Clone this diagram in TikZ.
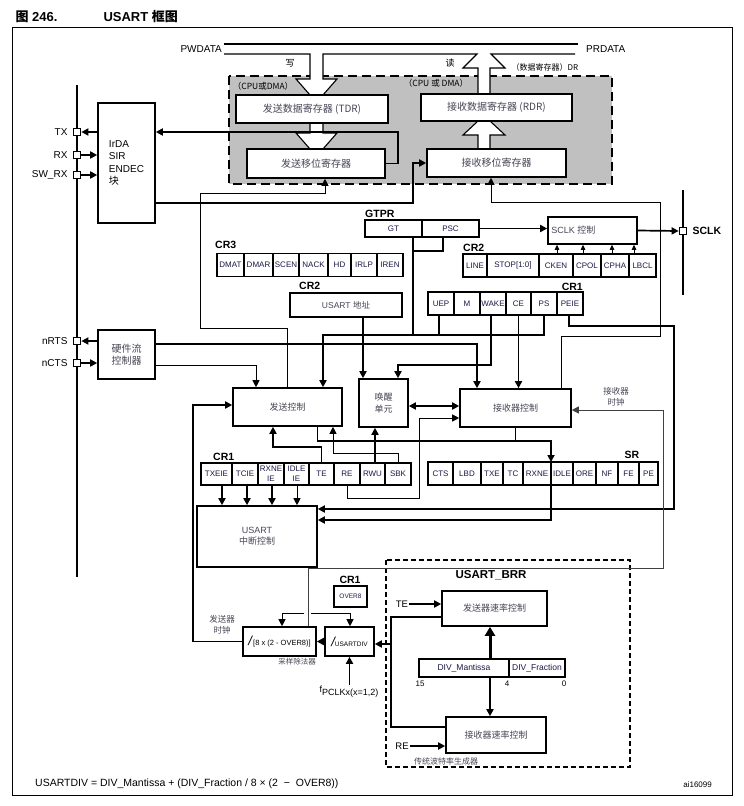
\documentclass[tikz,border=0pt]{standalone}
\usepackage{fontspec}
\setmainfont{Liberation Sans}
\newfontfamily\cjk{Noto Sans CJK SC}
\newfontfamily\latn{Liberation Sans}
\usepackage{tikz}
\usetikzlibrary{arrows.meta, positioning}
\definecolor{regfill}{RGB}{192,192,192}
\definecolor{txtgray}{RGB}{70,70,85}
\definecolor{celltxt}{RGB}{25,25,70}
\newcommand{\fsz}[1]{\fontsize{#1}{\fpeval{1.25*#1}}\selectfont}

\begin{document}
\begin{tikzpicture}[x=1pt, y=-1pt,
  box/.style={draw, line width=1.6pt, fill=white, inner sep=1pt, align=center,
              font=\cjk\fsz{9}, text=txtgray},
  cell/.style={draw, line width=1.2pt, fill=white, inner sep=0pt, outer sep=0pt,
               minimum height=23pt, align=center, font=\fsz{8}, text=celltxt},
  lab/.style={inner sep=1pt, font=\fsz{10}},
  reg/.style={inner sep=1pt, font=\bfseries\fsz{10.5}},
  pin/.style={draw, fill=white, line width=1.2pt, minimum size=7.5pt, inner sep=0pt},
  bus/.style={line width=1.1pt},
  thk/.style={line width=1.7pt},
  thn/.style={line width=0.9pt},
  arr/.style={-{Triangle[length=7pt, width=7pt]}},
  sarr/.style={-{Triangle[length=5pt, width=4.5pt]}},
  darr/.style={{Triangle[length=7pt, width=7pt]}-{Triangle[length=7pt, width=7pt]}}
]
\useasboundingbox (0,0) rectangle (744,806);

\node[anchor=west, font=\bfseries\fsz{13}] (fignum) at (12,17) {{\cjk 图} 246.};
\node[anchor=west, font=\bfseries\fsz{13}] (figtitle) at (100,17) {USART {\cjk 框图}};
\draw[line width=1pt] (12,27) rectangle (732,795);
\draw[line width=2.6pt] (77,85) -- (77,577);
\draw[line width=2.6pt] (683,190) -- (683,295);

% data registers and APB bus
\draw[fill=regfill, line width=2.2pt, dash pattern=on 9pt off 5pt] (229,76) rectangle (612,184);
\fill[white] (310,54) -- (310,79) -- (296,79) -- (310,95) -- (323,95) -- (337,79) -- (323,79) -- (323,54) -- cycle;
\fill[white] (478,94) -- (478,68) -- (463,68) -- (477,54) -- (491,54) -- (505,68) -- (490,68) -- (490,94) -- cycle;
\draw[bus] (224,44) -- (578,44);
\draw[bus] (224,54) -- (310,54) -- (310,79) -- (296,79) -- (310,95);
\draw[bus] (323,95) -- (337,79) -- (323,79) -- (323,54) -- (477,54) -- (463,68) -- (478,68) -- (478,94);
\draw[bus] (490,94) -- (490,68) -- (505,68) -- (491,54) -- (575,54);
\filldraw[bus, fill=white] (310,123) -- (310,133) -- (296,133) -- (310,149) -- (323,149) -- (337,133) -- (323,133) -- (323,123);
\filldraw[bus, fill=white] (478,149) -- (478,135) -- (463,135) -- (478,121) -- (490,121) -- (505,135) -- (490,135) -- (490,149);

\node[lab, anchor=east] (pwdata) at (223,49) {PWDATA};
\node[lab, anchor=west] (prdata) at (585,49) {PRDATA};
\node[lab, font=\cjk\fsz{9}] (wrl) at (290,63) {写};
\node[lab, font=\cjk\fsz{9}] (rdl) at (450,63) {读};
\node[lab, font=\cjk\fsz{8}] (drl) at (545,67) {（数据寄存器）DR};
\node[lab, font=\cjk\fsz{8.5}] (cpul) at (263,86) {（CPU或DMA）};
\node[lab, font=\cjk\fsz{8.5}] (cpur) at (436,83) {（CPU 或 DMA）};

\node[box, minimum width=152pt, minimum height=28pt, font=\cjk\fsz{10}] (tdr) at (312,109) {发送数据寄存器 (TDR)};
\node[box, minimum width=138pt, minimum height=29pt, font=\cjk\fsz{10}] (tsr) at (316,163.5) {发送移位寄存器};
\node[box, minimum width=151pt, minimum height=27pt, font=\cjk\fsz{10}] (rdr) at (496.5,107.5) {接收数据寄存器 (RDR)};
\node[box, minimum width=139pt, minimum height=28pt, font=\cjk\fsz{10}] (rsr) at (496.5,163) {接收移位寄存器};

% pins
\node[pin] (tx) at (77,132) {};
\node[pin] (rx) at (77,155) {};
\node[pin] (swrx) at (77,175) {};
\node[pin] (nrts) at (77,341) {};
\node[pin] (ncts) at (77,363) {};
\node[pin] (sclk) at (683,231) {};
\node[lab, left=4pt of tx] (txl) {TX};
\node[lab, left=4pt of rx] (rxl) {RX};
\node[lab, left=4pt of swrx] (swrxl) {SW\_RX};
\node[lab, left=4pt of nrts] (nrtsl) {nRTS};
\node[lab, left=4pt of ncts] (nctsl) {nCTS};
\node[reg, right=4pt of sclk] (sclkl) {SCLK};

\node[box, minimum width=57pt, minimum height=120pt, align=left, font=\fsz{10}, text=black] (irda) at (126.5,163) {IrDA\\SIR\\ENDEC\\{\cjk 块}};
\node[box, minimum width=57pt, minimum height=49pt, font=\cjk\fsz{10}] (hwfc) at (126.5,354.5) {硬件流\\控制器};
\draw[arr, thk] (irda.west |- tx) -- (tx.east);
\draw[arr, thk] (rx.east) -- (irda.west |- rx);
\draw[arr, thk] (swrx.east) -- (irda.west |- swrx);
\draw[arr, thk] (hwfc.west |- nrts) -- (nrts.east);
\draw[arr, thk] (ncts.east) -- (hwfc.west |- ncts);

% GTPR and clock control
\node[reg, anchor=west] (gtprl) at (364,214) {GTPR};
\node[cell, minimum width=57pt, minimum height=17pt] (gt) at (393.5,228.5) {GT};
\node[cell, minimum width=57pt, minimum height=17pt, right=0pt of gt] (psc) {PSC};
\node[box, minimum width=89pt, minimum height=27pt] (sclkc) at (592.5,230.5) {};
\node[lab, anchor=west, font=\fsz{9}, text=txtgray] (sclkt) at ([xshift=3pt]sclkc.west) {SCLK {\cjk 控制}};
\draw[arr, thk] (psc.east) -- (sclkc.west |- psc.east);
\draw[arr, thk] (sclkc.east) -- (sclk.west);

\node[reg, anchor=west] (cr3l) at (214,245) {CR3};
\node[cell, minimum width=27pt] (dmat) at (230.5,265) {DMAT};
\node[cell, minimum width=29pt, right=0pt of dmat] (dmar) {DMAR};
\node[cell, minimum width=26pt, right=0pt of dmar] (scen) {SCEN};
\node[cell, minimum width=29pt, right=0pt of scen] (nack) {NACK};
\node[cell, minimum width=23pt, right=0pt of nack] (hd) {HD};
\node[cell, minimum width=26pt, right=0pt of hd] (irlp) {IRLP};
\node[cell, minimum width=26pt, right=0pt of irlp] (iren) {IREN};

\node[reg, anchor=west] (cr2bl) at (462,248) {CR2};
\node[cell, minimum width=24pt] (linec) at (475,265.5) {LINE};
\node[cell, minimum width=52pt, right=0pt of linec] (stop) {STOP[1:0]};
\node[cell, minimum width=34pt, right=0pt of stop] (cken) {CKEN};
\node[cell, minimum width=28pt, right=0pt of cken] (cpol) {CPOL};
\node[cell, minimum width=28pt, right=0pt of cpol] (cpha) {CPHA};
\node[cell, minimum width=27pt, right=0pt of cpha] (lbcl) {LBCL};
\draw[sarr, thn] (cken.north -| 557,0) -- (sclkc.south -| 557,0);
\draw[sarr, thn] (cpol.north -| 583,0) -- (sclkc.south -| 583,0);
\draw[sarr, thn] (cpha.north -| 612,0) -- (sclkc.south -| 612,0);
\draw[sarr, thn] (lbcl.north -| 634,0) -- (sclkc.south -| 634,0);

\node[reg, anchor=west] (cr2al) at (298,286) {CR2};
\node[box, minimum width=112pt, minimum height=24pt, font=\fsz{8.5}] (addr) at (346,305) {USART {\cjk 地址}};

\node[reg, anchor=east] (cr1al) at (584,287) {CR1};
\node[cell, minimum width=26pt] (uep) at (441,303.5) {UEP};
\node[cell, minimum width=26pt, right=0pt of uep] (mbit) {M};
\node[cell, minimum width=26pt, right=0pt of mbit] (wk) {WAKE};
\node[cell, minimum width=25pt, right=0pt of wk] (ce) {CE};
\node[cell, minimum width=26pt, right=0pt of ce] (ps) {PS};
\node[cell, minimum width=26pt, right=0pt of ps] (peie) {PEIE};

% control blocks
\node[box, minimum width=109pt, minimum height=38pt] (txc) at (287.5,407) {发送控制};
\node[box, minimum width=49pt, minimum height=48pt] (wake) at (383.5,403) {唤醒\\单元};
\node[box, minimum width=111pt, minimum height=38pt] (rxc) at (515.5,408) {接收器控制};
\node[lab, font=\cjk\fsz{8.5}, text=txtgray, align=center] (rxclkl) at (616,397) {接收器\\时钟};

\node[reg, anchor=west] (cr1bl) at (212,457) {CR1};
\node[cell, minimum width=31pt, minimum height=22pt] (txeie) at (216.5,474) {TXEIE};
\node[cell, minimum width=26pt, minimum height=22pt, right=0pt of txeie] (tcie) {TCIE};
\node[cell, minimum width=26pt, minimum height=22pt, right=0pt of tcie] (rxneie) {RXNE\\IE};
\node[cell, minimum width=25pt, minimum height=22pt, right=0pt of rxneie] (idleie) {IDLE\\IE};
\node[cell, minimum width=25pt, minimum height=22pt, right=0pt of idleie] (te) {TE};
\node[cell, minimum width=26pt, minimum height=22pt, right=0pt of te] (re) {RE};
\node[cell, minimum width=25pt, minimum height=22pt, right=0pt of re] (rwu) {RWU};
\node[cell, minimum width=26pt, minimum height=22pt, right=0pt of rwu] (sbk) {SBK};

\node[reg] (srl) at (632,455) {SR};
\node[cell, minimum width=25pt] (cts) at (440.5,473.5) {CTS};
\node[cell, minimum width=28pt, right=0pt of cts] (lbd) {LBD};
\node[cell, minimum width=22pt, right=0pt of lbd] (txe) {TXE};
\node[cell, minimum width=20pt, right=0pt of txe] (tc) {TC};
\node[cell, minimum width=28pt, right=0pt of tc] (srrxne) {RXNE};
\node[cell, minimum width=22pt, right=0pt of srrxne] (sridle) {IDLE};
\node[cell, minimum width=23pt, right=0pt of sridle] (ore) {ORE};
\node[cell, minimum width=22pt, right=0pt of ore] (nf) {NF};
\node[cell, minimum width=21pt, right=0pt of nf] (fe) {FE};
\node[cell, minimum width=19pt, right=0pt of fe] (pe) {PE};

\node[box, minimum width=120pt, minimum height=61pt] (itc) at (257,536.5) {{\latn USART}\\中断控制};

% baud rate
\node[reg] (cr1cl) at (350,580) {CR1};
\node[cell, minimum width=33pt, minimum height=21pt, line width=1.6pt, font=\fsz{6.5}] (over8) at (350.5,596.5) {OVER8};
\node[box, minimum width=73pt, minimum height=29pt, font=\fsz{7.5}, text=black] (samp) at (279.5,641.5) {{\fsz{13}\itshape /}\,[8 x (2 - OVER8)]};
\node[box, minimum width=49pt, minimum height=29pt, font=\fsz{6.5}, text=black] (udiv) at (349.5,641.5) {{\fsz{13}\itshape /}USARTDIV};
\node[lab, font=\cjk\fsz{7.5}, text=txtgray] (sampl) at (297,662) {采样除法器};
\node[lab, font=\cjk\fsz{8.5}, text=txtgray, align=center] (txclkl) at (222,625) {发送器\\时钟};
\node[lab, anchor=north, font=\fsz{9}] (fpclk) at (349,685) {f\raisebox{-3pt}{PCLKx(x=1,2)}};

\draw[bus, dash pattern=on 5pt off 3pt] (386,560) rectangle (630,767);
\node[reg, font=\bfseries\fsz{11.5}] (brrl) at (491,575) {USART\_BRR};
\node[box, minimum width=105pt, minimum height=35pt] (txr) at (494.5,608.5) {发送器速率控制};
\node[box, minimum width=100pt, minimum height=36pt] (rxr) at (496,735) {接收器速率控制};
\node[cell, minimum width=90pt, minimum height=18pt, font=\fsz{8.5}] (mant) at (464,668) {DIV\_Mantissa};
\node[cell, minimum width=56pt, minimum height=18pt, line width=1.8pt, font=\fsz{8.5}, right=0pt of mant] (frac) {DIV\_Fraction};
\node[lab, font=\fsz{8}] (b15) at (420,684) {15};
\node[lab, font=\fsz{8}] (b4) at (507,684) {4};
\node[lab, font=\fsz{8}] (b0) at (564,684) {0};
\node[lab, font=\fsz{9.5}] (te2) at (402,604) {TE};
\node[lab, font=\fsz{9.5}] (re2) at (402,746) {RE};
\node[lab, font=\cjk\fsz{8}, text=txtgray] (brrc) at (446,761) {传统波特率生成器};

\node[lab, anchor=west, font=\fsz{10.5}] (formula) at (34,784) {USARTDIV = DIV\_Mantissa + (DIV\_Fraction / 8 × (2 ~−~ OVER8))};
\node[lab, anchor=east, font=\fsz{8}] (aiid) at (713,785) {ai16099};

% connectors
\draw[arr, thk] (tsr.east) -| (398,132) -- (irda.east |- 0,132);
\draw[arr, thk] (irda.east |- 0,203) -| (413,163) -- (rsr.west);
\draw[arr, thn] (txc.north) |- (200,328) |- (325,193) -- (tsr.south -| 325,0);
\draw[arr, thn] (rxc.north -| 561,0) |- (660,336) |- (491,202) -- (rsr.south -| 491,0);
\draw[thk] (gt.south -| 413,0) -- (413,335);
\draw[thk] (psc.south -| 443,0) |- (413,251);
\draw[thk] (uep.south -| 439,0) -- (439,335);
\draw[arr, thk] (ps.south) |- (323,335) -- (txc.north -| 323,0);
\draw[arr, thk] (hwfc.east |- 0,344) -| (rxc.north -| 477,0);
\draw[arr, thn] (hwfc.east |- 0,365) -| (txc.north -| 256,0);
\draw[arr, thk] (addr.south -| 363,0) -- (wake.north -| 363,0);
\draw[arr, thk] (wk.south -| 491,0) |- (398,365) -- (wake.north -| 398,0);
\draw[arr, thk] (ce.south) -- (rxc.north -| ce.south);
\draw[arr, thk] (peie.south -| 569,0) |- (674,326) |- (itc.east |- 0,509);
\draw[darr, thk] (wake.east |- 0,406) -- (rxc.west |- 0,406);
\draw[thn] (txc.south -| 317,0) -- (317,441);
\draw[arr, thk] (317,441) -| (srrxne.north east);
\draw[thk] (rxc.south) -- (rxc.south |- 0,441);
\draw[arr, thk] (srrxne.south east) |- (itc.east |- 0,520);
\draw[arr, thk] (te.north) |- (273,447) -- (txc.south -| 273,0);
\draw[arr, thn] (sbk.north) |- (333,453) -- (txc.south -| 333,0);
\draw[arr, thk] (rwu.north -| 375,0) -- (wake.south -| 375,0);
\draw[arr, thn] (re.south) |- (419,498) |- (rxc.west |- 0,418);
\draw[arr, thk] (txeie.south -| 222,0) -- (itc.north -| 222,0);
\draw[arr, thk] (tcie.south -| 247,0) -- (itc.north -| 247,0);
\draw[arr, thk] (rxneie.south -| 272,0) -- (itc.north -| 272,0);
\draw[arr, thn] (idleie.south -| 297,0) -- (itc.north -| 297,0);
\draw[arr, thk] (samp.west) -| (193,405) -- (txc.west |- 0,405);
\draw[arr, thn, black!75] (samp.north -| 308,0) |- (663,568) |- (rxc.east |- 0,410);
\draw[arr, thn] (350,613) -- (udiv.north -| 350,0);
\draw[thn] (350,613) -- (311,613);
\draw[arr, thn] (304,613) -| (samp.north -| 282,0);
\draw[arr, thk] (udiv.west) -- (samp.east);
\draw[arr, thk] (fpclk.north -| udiv.south) -- (udiv.south);
\draw[thk] (txr.west |- 0,617) -| (391,727) -- (rxr.west |- 0,727);
\draw[arr, thk] (391,644) -- (udiv.east |- 0,644);
\draw[arr, thk] (te2.east) -- (txr.west |- te2.east);
\draw[arr, thk] (re2.east) -- (rxr.west |- re2.east);
\draw[-{Triangle[length=9pt, width=10pt]}, line width=3pt] (mant.north -| 490,0) -- (txr.south -| 490,0);
\draw[arr, thk] (mant.south -| 490,0) -- (rxr.north -| 490,0);
\end{tikzpicture}
\end{document}
